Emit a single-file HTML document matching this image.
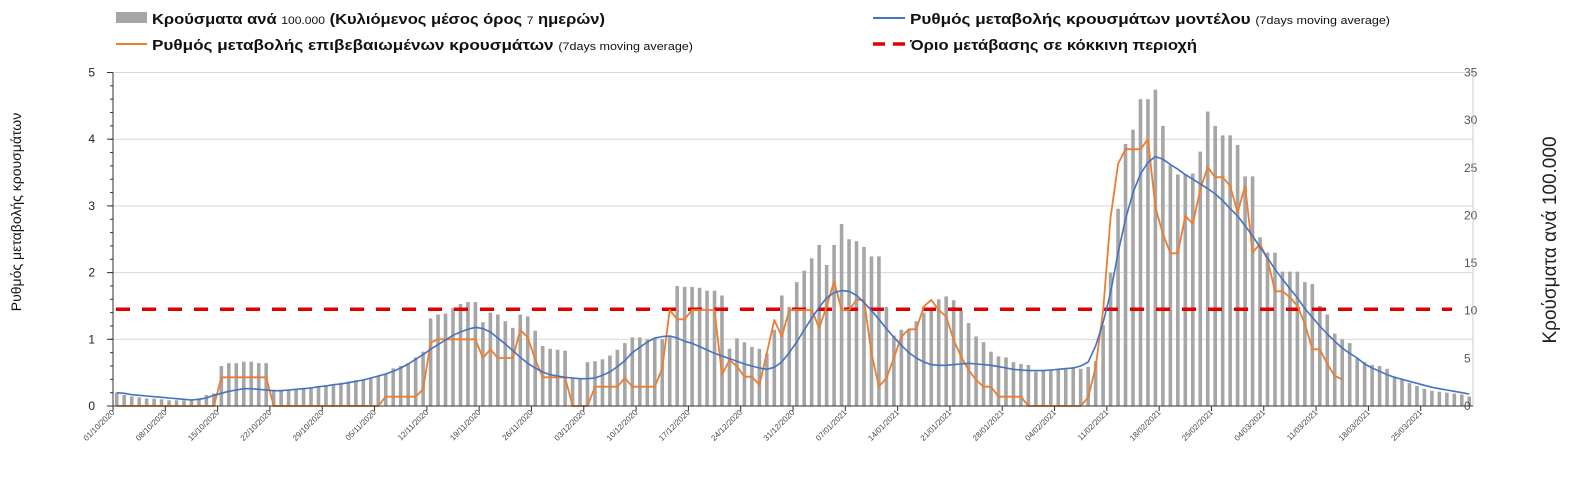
<!DOCTYPE html>
<html><head><meta charset="utf-8">
<style>
html,body{margin:0;padding:0;background:#fff;}
svg{display:block;font-family:"Liberation Sans Narrow","Liberation Sans",sans-serif;}
</style></head>
<body>
<svg id="chart" width="1582" height="485" viewBox="0 0 1582 485" xmlns="http://www.w3.org/2000/svg">
  <g>
    <g>
      <rect x="116" y="12" width="31" height="11" fill="#a6a6a6"/>
      <text x="152" y="24" font-size="15" font-weight="bold" fill="#111" textLength="453" lengthAdjust="spacingAndGlyphs">Κρούσματα ανά <tspan font-size="11" font-weight="normal">100.000</tspan> (Κυλιόμενος μέσος όρος <tspan font-size="11" font-weight="normal">7</tspan> ημερών)</text>
    </g>
    <g>
      <line x1="116" y1="44" x2="147" y2="44" stroke="#ed7d31" stroke-width="2"/>
      <text x="152" y="50" font-size="15" font-weight="bold" fill="#111" textLength="541" lengthAdjust="spacingAndGlyphs">Ρυθμός μεταβολής επιβεβαιωμένων κρουσμάτων <tspan font-size="11" font-weight="normal">(7days moving average)</tspan></text>
    </g>
    <g>
      <line x1="873" y1="18" x2="905" y2="18" stroke="#4472c4" stroke-width="2"/>
      <text x="910" y="24" font-size="15" font-weight="bold" fill="#111" textLength="480" lengthAdjust="spacingAndGlyphs">Ρυθμός μεταβολής κρουσμάτων μοντέλου <tspan font-size="11" font-weight="normal">(7days moving average)</tspan></text>
    </g>
    <g>
      <line x1="873" y1="44" x2="907" y2="44" stroke="#e00000" stroke-width="3.5" stroke-dasharray="12,8"/>
      <text x="910" y="50" font-size="15" font-weight="bold" fill="#111" textLength="287" lengthAdjust="spacingAndGlyphs">Όριο μετάβασης σε κόκκινη περιοχή</text>
    </g>
  </g>
  <text transform="translate(21,212) rotate(-90)" text-anchor="middle" font-size="14" fill="#111">Ρυθμός μεταβολής κρουσμάτων</text>
  <text transform="translate(1556,240) rotate(-90)" text-anchor="middle" font-size="19" fill="#222">Κρούσματα ανά 100.000</text>
  <g id="grid"></g>
  <g id="bars"></g>
  <g id="lines"></g>
  <g id="axes"></g>
</svg>
<script>
const startDate = [1, 10, 2020];
const casesPer100k = [1.4,1.15,1.0,0.9,0.8,0.77,0.7,0.6,0.6,0.6,0.7,0.8,1.15,1.3,
4.2,4.5,4.5,4.65,4.65,4.5,4.5,
1.7,1.7,1.7,1.75,1.9,2.0,2.1,2.2,2.3,2.45,2.55,2.7,2.8,3.0,3.1,3.4,3.95,4.2,4.5,5.1,5.7,
9.2,9.6,9.7,10.3,10.7,10.9,10.9,
8.8,9.8,9.6,8.9,8.2,9.6,9.4,
7.9,6.3,6.0,5.9,5.8,2.9,2.9,
4.6,4.7,4.9,5.3,5.9,6.6,7.2,7.2,7.0,7.1,7.0,7.4,12.6,12.5,12.5,12.4,12.1,12.1,11.6,6.0,7.1,6.7,6.2,6.0,5.5,8.0,11.6,10.4,13.0,14.2,15.5,16.9,14.8,16.9,19.1,17.5,17.3,16.7,15.7,15.7,10.4,7.4,8.0,8.0,8.9,9.8,10.2,11.2,11.5,11.1,10.0,8.7,7.3,6.7,5.7,5.2,5.1,4.6,4.4,4.3,3.6,3.7,3.8,3.9,3.9,4.1,3.9,
4.1,4.7,8.5,14.0,20.7,27.5,29.0,32.2,32.2,33.2,29.4,25.3,24.3,24.3,24.4,26.7,30.9,29.4,28.4,28.4,27.4,24.1,24.1,17.7,16.1,16.1,14.1,14.1,14.1,13.0,12.8,10.5,9.6,7.6,7.0,6.6,5.0,4.6,4.3,4.2,3.9,3.1,2.8,2.4,2.1,1.8,1.6,1.5,1.4,1.3,1.2,1.0];
const modelRate = [0.20,0.19,0.17,0.16,0.15,0.14,0.13,0.12,0.11,0.10,0.09,0.10,0.12,0.16,
0.19,0.22,0.24,0.26,0.26,0.25,0.24,0.23,0.23,0.24,0.25,0.26,0.27,0.29,
0.30,0.32,0.33,0.35,0.37,0.39,0.42,0.45,0.48,0.52,0.57,0.63,0.70,0.77,
0.85,0.92,0.99,1.06,1.11,1.15,1.18,1.16,1.11,1.02,0.93,0.83,0.73,0.64,
0.57,0.51,0.47,0.45,0.43,0.42,0.41,0.41,0.42,0.46,0.51,0.59,0.68,0.80,
0.88,0.96,1.02,1.04,1.05,1.02,0.97,0.94,0.89,0.84,0.79,0.75,0.71,0.67,
0.63,0.60,0.57,0.55,0.58,0.66,0.80,0.96,1.14,1.32,1.48,1.62,1.70,1.73,
1.72,1.66,1.55,1.43,1.30,1.16,1.03,0.91,0.80,0.72,0.66,0.62,0.61,0.61,
0.62,0.63,0.64,0.63,0.62,0.61,0.59,0.57,0.55,0.54,0.53,0.53,0.53,0.54,
0.55,0.56,0.57,0.60,0.66,0.90,1.25,1.70,2.30,2.80,3.20,3.48,3.65,3.74,
3.70,3.62,3.55,3.47,3.40,3.33,3.26,3.18,3.08,2.96,2.85,2.70,2.55,2.38,
2.22,2.05,1.90,1.76,1.62,1.46,1.33,1.20,1.08,0.97,0.87,0.79,0.72,0.63,
0.57,0.52,0.47,0.43,0.40,0.37,0.34,0.31,0.28,0.26,0.24,0.22,0.20,0.18];
const confirmedRate = [0,0,0,0,0,0,0,0,0,0,0,0,0,0,
0.43,0.43,0.43,0.43,0.43,0.43,0.43,
0,0,0,0,0,0,0,0,0,0,0,0,0,0,0,
0.14,0.14,0.14,0.14,0.14,0.25,0.95,1.0,1.0,1.0,1.0,1.0,1.0,
0.72,0.85,0.72,0.72,0.72,1.14,1.03,0.70,0.43,0.43,0.43,0.43,0,0,0,
0.29,0.29,0.29,0.29,0.42,0.29,0.29,0.29,0.29,0.56,1.44,1.3,1.3,1.44,1.44,1.44,1.44,0.47,0.69,0.59,0.44,0.44,0.32,0.79,1.29,1.04,1.44,1.44,1.44,1.44,1.17,1.49,1.87,1.44,1.44,1.59,1.59,0.79,0.29,0.42,0.72,1.04,1.15,1.15,1.49,1.59,1.44,1.34,0.99,0.74,0.54,0.39,0.29,0.29,0.14,0.14,0.14,0.14,0,0,0,0,0,0,0,0,
0.13,0.58,1.43,2.83,3.63,3.85,3.85,3.85,4.0,2.98,2.58,2.29,2.29,2.85,2.73,3.25,3.58,3.43,3.43,3.3,2.9,3.3,2.3,2.43,2.2,1.72,1.72,1.63,1.5,1.23,0.85,0.85,0.63,0.45,0.4];
const redThreshold = [1.45];
const leftTicks = [0,1,2,3,4,5];
const rightTicks = [0,5,10,15,20,25,30,35];

const NS = "http://www.w3.org/2000/svg";
const X0 = 113, X1 = 1473, Y0 = 406, YT = 72.5;
const N = casesPer100k.length;
const step = (X1 - X0) / N;
function xBand(i){ return X0 + step * i; }
function xc(i){ return X0 + step * (i + 0.5); }
function yL(v){ return Y0 - (Y0 - YT) * v / 5; }
function yR(v){ return Y0 - (Y0 - YT) * v / 35; }
function mk(tag, attrs, parent){
  const e = document.createElementNS(NS, tag);
  for (const k in attrs) e.setAttribute(k, attrs[k]);
  parent.appendChild(e);
  return e;
}
const grid = document.getElementById('grid');
const bars = document.getElementById('bars');
const lines = document.getElementById('lines');
const axes = document.getElementById('axes');

leftTicks.forEach(v => {
  if (v > 0) {
    const g = mk('line', {x1:X0, x2:X1, y1:yL(v), y2:yL(v), stroke:'#d9d9d9', 'stroke-width':1}, grid);
    
    
  }
  const t = mk('text', {x:95, y:yL(v)+4, 'text-anchor':'end', 'font-size':12, fill:'#222'}, axes);
  t.textContent = v;
  
  
  const tk = mk('line', {x1:X0-6, x2:X0, y1:yL(v), y2:yL(v), stroke:'#333', 'stroke-width':1}, axes);
  
  
});
for (let k = 0; k < 25; k++) {
  const v = k * 0.2;
  mk('line', {x1:X0-3, x2:X0, y1:yL(v), y2:yL(v), stroke:'#333', 'stroke-width':1}, axes);
}
rightTicks.forEach(v => {
  const t = mk('text', {x:1464, y:yR(v)+4, 'text-anchor':'start', 'font-size':12, fill:'#555'}, axes);
  t.textContent = v;
  
  
});
const la = mk('line', {x1:X0, x2:X0, y1:YT, y2:Y0, stroke:'#333', 'stroke-width':1}, axes);


const ra = mk('line', {x1:X1, x2:X1, y1:YT, y2:Y0, stroke:'#ccc', 'stroke-width':1}, axes);


const xa = mk('line', {x1:X0, x2:X1, y1:Y0, y2:Y0, stroke:'#333', 'stroke-width':1}, axes);



const d0 = new Date(startDate[2], startDate[1]-1, startDate[0]);
function fmt(d){ const p = n => (n<10?'0':'')+n; return p(d.getDate())+'/'+p(d.getMonth()+1)+'/'+d.getFullYear(); }
for (let i = 0; i < N; i += 7) {
  const x = xBand(i);
  mk('line', {x1:x, x2:x, y1:Y0, y2:Y0+5, stroke:'#333', 'stroke-width':1}, axes);
  const d = new Date(d0.getTime()); d.setDate(d0.getDate() + i);
  const t = mk('text', {x:x+2, y:Y0+7, 'text-anchor':'end', 'font-size':8, fill:'#444', transform:'rotate(-45 '+(x+2)+' '+(Y0+7)+')'}, axes);
  t.textContent = fmt(d);
  
  
}

casesPer100k.forEach((v, i) => {
  const b = mk('rect', {x:xc(i)-1.8, y:yR(v), width:3.6, height:Y0-yR(v), fill:'#a6a6a6'}, bars);
  
  
});

const rl = mk('line', {x1:X0+3, x2:1452, y1:yL(redThreshold[0]), y2:yL(redThreshold[0]), stroke:'#e00000', 'stroke-width':3.5, 'stroke-dasharray':'14,12'}, lines);



const op = mk('polyline', {points: confirmedRate.map((v,i)=>xc(i).toFixed(1)+','+yL(v).toFixed(1)).join(' '), fill:'none', stroke:'#ed7d31', 'stroke-width':1.8, 'stroke-linejoin':'round'}, lines);



const bp = mk('polyline', {points: modelRate.map((v,i)=>xc(i).toFixed(1)+','+yL(v).toFixed(1)).join(' '), fill:'none', stroke:'#4472c4', 'stroke-width':1.6, 'stroke-linejoin':'round'}, lines);


</script>
</body></html>
